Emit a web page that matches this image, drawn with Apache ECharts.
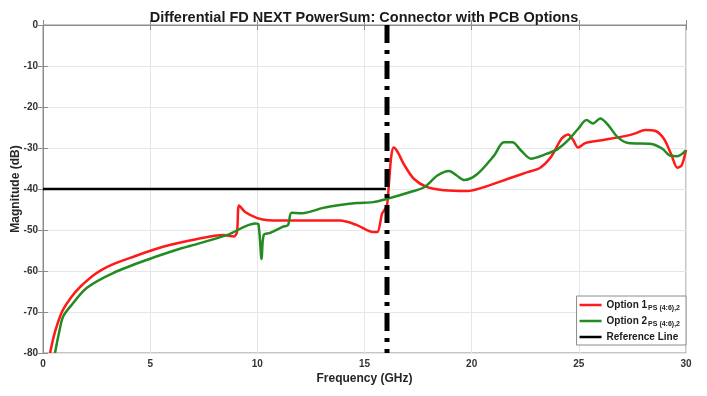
<!DOCTYPE html>
<html>
<head>
<meta charset="utf-8">
<script src="https://cdn.jsdelivr.net/npm/echarts@6/dist/echarts.min.js"></script>
<style>
  html, body { margin: 0; padding: 0; background: #fff; }
  #chart { width: 707px; height: 396px; }
</style>
</head>
<body>
<div id="chart"></div>
<script>
// Option 1 (red)
const opt1Freq = [0.33, 0.5, 0.7, 0.93, 1.3, 1.73, 2.5, 3.2, 4.06, 5.6, 7.2, 8.4, 8.9, 9.05, 9.15, 9.43, 10, 10.5, 12, 13.86, 14.65, 15.4, 15.6, 15.82, 15.95, 16.05, 16.15, 16.25, 16.36, 16.55, 16.83, 17.3, 17.9, 18.7, 19.8, 20.6, 21.7, 22.6, 23.2, 23.7, 24.2, 24.5, 24.73, 24.97, 25.3, 26.07, 27.15, 27.6, 28.1, 28.55, 28.96, 29.3, 29.6, 29.8, 30];
const opt1Mag = [-80, -76, -72.5, -69.5, -66.5, -63.9, -60.5, -58.5, -56.8, -54.1, -52.2, -51.2, -51.6, -50.5, -44, -45.6, -47.1, -47.6, -47.7, -47.7, -48.8, -50.5, -50.5, -46, -45, -44, -38, -32, -29.9, -31, -33.9, -37.5, -39.5, -40.3, -40.5, -39.5, -37.5, -35.9, -34.8, -32.2, -27.7, -26.7, -28, -29.9, -28.8, -28.1, -27.1, -26.5, -25.6, -25.8, -27.7, -31.4, -34.8, -34.2, -30.5];

// Option 2 (green)
const opt2Freq = [0.56, 0.75, 0.93, 1.3, 2.05, 3.27, 5, 6.5, 6.86, 8.6, 9.9, 10.05, 10.2, 10.3, 10.6, 11.2, 11.43, 11.6, 12.1, 13.07, 13.86, 14.65, 15.4, 16.05, 17.1, 17.8, 18.4, 18.95, 19.3, 19.65, 20.25, 21.05, 21.5, 21.9, 22.3, 22.77, 23.4, 24.03, 24.5, 24.97, 25.36, 25.66, 26, 26.37, 26.8, 27.3, 28.4, 28.9, 29.27, 29.6, 30];
const opt2Mag = [-80, -75, -71.2, -68.5, -64.1, -60.5, -57, -54.4, -53.9, -51.2, -48.4, -48.6, -57.1, -51.2, -50.7, -49.2, -48.8, -45.8, -45.9, -44.6, -43.9, -43.4, -43.2, -42.4, -40.8, -39.5, -36.7, -35.6, -36.7, -37.8, -36.4, -31.8, -28.6, -28.6, -30.6, -32.6, -31.6, -30.2, -28.1, -25.3, -23.2, -24, -22.8, -24.4, -27.3, -28.8, -29, -30.2, -31.9, -32, -30.6];

// reference line and band edge marker
const refFreq = [0, 16];
const refMag = [-40, -40];
const markerFreq = [16.05, 16.05];
const markerMag = [0, -80];

const xTicks = [0, 5, 10, 15, 20, 25, 30];
const yTicks = [0, -10, -20, -30, -40, -50, -60, -70, -80];

const zip = (xs, ys) => xs.map((x, i) => [x, ys[i]]);

const FONT = "'Liberation Sans', Arial, sans-serif";
const legendNames = {
  "Option 1": "{a|Option 1}{s|PS (4:6),2}",
  "Option 2": "{a|Option 2}{s|PS (4:6),2}",
  "Reference Line": "{a|Reference Line}",
};

const chart = echarts.init(document.getElementById("chart"));

const option = {
  animation: false,
  title: {
    text: "Differential FD NEXT PowerSum: Connector with PCB Options",
    left: 359,
    textAlign: "center",
    top: 5,
    textStyle: { fontFamily: FONT, fontSize: 14.5, fontWeight: "bold", color: "#1a1a1a" },
  },
  grid: { left: 43, right: 21, top: 25, bottom: 43, outerBoundsMode: "none",
    show: true, borderColor: "#8c8c8c", borderWidth: 1 },
  legend: {
    data: ["Option 1", "Option 2", "Reference Line"],
    orient: "vertical",
    right: 21,
    bottom: 51,
    icon: "rect",
    itemWidth: 22,
    itemHeight: 2.5,
    itemGap: 4,
    padding: [4, 6, 3, 3],
    backgroundColor: "#fff",
    borderColor: "#8c8c8c",
    borderWidth: 1,
    borderRadius: 0,
    formatter: (name) => legendNames[name],
    textStyle: {
      fontFamily: FONT,
      rich: {
        a: { fontSize: 10, fontWeight: "bold", color: "#1a1a1a" },
        s: { fontSize: 7, fontWeight: "bold", color: "#1a1a1a", padding: [7, 0, 0, 1] },
      },
    },
  },
  xAxis: [
    {
      type: "value",
      min: 0,
      max: 30,
      interval: 5,
      name: "Frequency (GHz)",
      nameLocation: "middle",
      nameGap: 20,
      nameMoveOverlap: false,
      nameTextStyle: { fontFamily: FONT, fontSize: 12, fontWeight: "bold", color: "#262626" },
      axisLine: { show: true, lineStyle: { color: "#8c8c8c" } },
      axisTick: { show: true, inside: true, length: 5, lineStyle: { color: "#8c8c8c" } },
      axisLabel: { fontFamily: FONT, fontSize: 10, fontWeight: "bold", color: "#333", margin: 6,
        formatter: (v) => (xTicks.includes(v) ? String(v) : "") },
      splitLine: { show: true, lineStyle: { color: "#e6e6e6" } },
    },
    {
      type: "value", position: "top", min: 0, max: 30, interval: 5,
      axisLine: { show: true, lineStyle: { color: "#8c8c8c" } },
      axisTick: { show: true, inside: true, length: 5, lineStyle: { color: "#8c8c8c" } },
      axisLabel: { show: false }, splitLine: { show: false },
    },
  ],
  yAxis: [
    {
      type: "value",
      min: -80,
      max: 0,
      interval: 10,
      name: "Magnitude (dB)",
      nameLocation: "middle",
      nameGap: 21,
      nameMoveOverlap: false,
      nameTextStyle: { fontFamily: FONT, fontSize: 12, fontWeight: "bold", color: "#262626" },
      axisLine: { show: true, lineStyle: { color: "#8c8c8c" } },
      axisTick: { show: true, inside: true, length: 5, lineStyle: { color: "#8c8c8c" } },
      axisLabel: { fontFamily: FONT, fontSize: 10, fontWeight: "bold", color: "#333", margin: 5,
        formatter: (v) => (yTicks.includes(v) ? String(v) : "") },
      splitLine: { show: true, lineStyle: { color: "#e6e6e6" } },
    },
    {
      type: "value", position: "right", min: -80, max: 0, interval: 10,
      axisLine: { show: true, lineStyle: { color: "#8c8c8c" } },
      axisTick: { show: true, inside: true, length: 5, lineStyle: { color: "#8c8c8c" } },
      axisLabel: { show: false }, splitLine: { show: false },
    },
  ],
  series: [
    {
      name: "Option 1",
      type: "line",
      data: zip(opt1Freq, opt1Mag),
      symbol: "none",
      smooth: 0.3,
      lineStyle: { color: "#ff1a1a", width: 2.5 },
      itemStyle: { color: "#ff1a1a" },
      z: 3,
    },
    {
      name: "Option 2",
      type: "line",
      data: zip(opt2Freq, opt2Mag),
      symbol: "none",
      smooth: 0.3,
      lineStyle: { color: "#228b22", width: 2.5 },
      itemStyle: { color: "#228b22" },
      z: 4,
    },
    {
      name: "Reference Line",
      type: "line",
      data: zip(refFreq, refMag),
      symbol: "none",
      lineStyle: { color: "#000", width: 2.5 },
      itemStyle: { color: "#000" },
      z: 2,
    },
    {
      name: "Band Edge",
      type: "line",
      data: zip(markerFreq, markerMag),
      symbol: "none",
      lineStyle: { color: "#000", width: 5, type: [18, 7, 4, 7] },
      z: 5,
    },
  ],
};

chart.setOption(option);
</script>
</body>
</html>
